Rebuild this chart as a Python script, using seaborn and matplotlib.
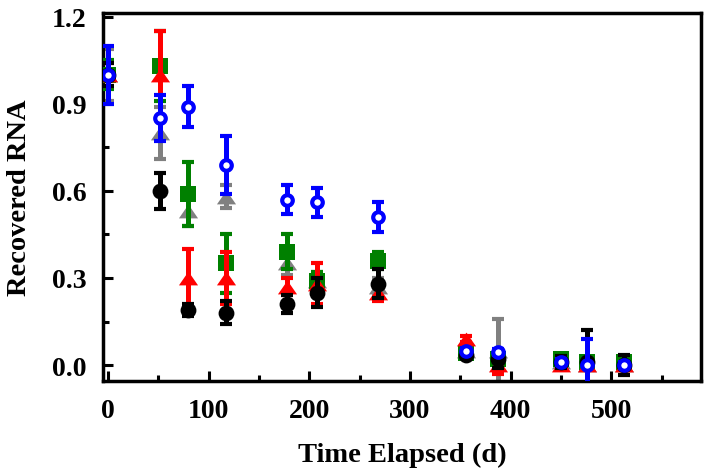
import numpy as np
import pandas as pd
import seaborn as sns
import matplotlib.pyplot as plt

# sampling times (days)
days = [0, 52, 80, 117, 178, 208, 268, 356, 388, 450, 476, 513]

gray_y = [1.00, 0.80, 0.53, 0.58, 0.35, 0.29, 0.27, 0.05, 0.05, 0.01, 0.00, 0.00]
gray_err = [0.09, 0.09, 0.05, 0.04, 0.04, 0.03, 0.03, 0.01, 0.11, 0.01, 0.01, 0.01]

green_y = [1.00, 1.03, 0.59, 0.35, 0.39, 0.29, 0.36, 0.04, 0.02, 0.02, 0.01, 0.01]
green_err = [0.05, 0.12, 0.11, 0.10, 0.06, 0.03, 0.03, 0.01, 0.02, 0.01, 0.01, 0.01]

red_y = [1.00, 1.00, 0.30, 0.30, 0.27, 0.28, 0.25, 0.09, 0.00, 0.00, 0.00, 0.00]
red_err = [0.04, 0.15, 0.10, 0.09, 0.03, 0.07, 0.03, 0.01, 0.03, 0.01, 0.01, 0.01]

black_y = [1.00, 0.60, 0.19, 0.18, 0.21, 0.25, 0.28, 0.035, 0.02, 0.01, 0.01, 0.00]
black_err = [0.04, 0.063, 0.02, 0.04, 0.03, 0.05, 0.05, 0.01, 0.03, 0.02, 0.11, 0.035]

blue_y = [1.00, 0.85, 0.89, 0.69, 0.57, 0.56, 0.51, 0.05, 0.045, 0.01, 0.00, 0.00]
blue_err = [0.10, 0.08, 0.07, 0.10, 0.05, 0.05, 0.05, 0.01, 0.01, 0.01, 0.09, 0.01]

# wide, squat triangle like the original
tri = [(-1, -0.72), (1, -0.72), (0, 0.72)]

series = [
    ("gray", gray_y, gray_err, tri, "gray", "gray", 190),
    ("green", green_y, green_err, "s", "green", "green", 130),
    ("red", red_y, red_err, tri, "red", "red", 190),
    ("black", black_y, black_err, "o", "black", "black", 130),
    ("blue", blue_y, blue_err, "o", "white", "blue", 58),
]

sns.set_theme(style="white")
plt.rcParams['font.family'] = ['Liberation Serif', 'DejaVu Serif']
plt.rcParams['font.weight'] = 'bold'
plt.rcParams['text.color'] = 'black'
plt.rcParams['axes.labelcolor'] = 'black'
plt.rcParams['xtick.color'] = 'black'
plt.rcParams['ytick.color'] = 'black'

fig = plt.figure(figsize=(7.1, 4.77), dpi=100)
ax = fig.add_axes([0.145, 0.199, 0.842, 0.772])

for i, (name, y, err, mk, face, col, sz) in enumerate(series):
    z = 2 + i * 2
    ax.errorbar(days, y, yerr=err, fmt='none', ecolor=col, elinewidth=3.6,
                capsize=4, capthick=3, zorder=z)
    df = pd.DataFrame({'t': days, 'v': y})
    sns.scatterplot(data=df, x='t', y='v', marker=mk, s=sz,
                    color=face, edgecolor=col, linewidth=3 if face == 'white' else 0,
                    ax=ax, zorder=z + 1, legend=False)

ax.set_xlim(-5, 589)
ax.set_ylim(-0.055, 1.213)
ax.set_xticks([0, 100, 200, 300, 400, 500])
ax.set_xticks(np.arange(50, 600, 100), minor=True)
ax.set_yticks([0.0, 0.3, 0.6, 0.9, 1.2])
ax.set_yticks([0.15, 0.45, 0.75, 1.05], minor=True)
ax.set_yticklabels(['0.0', '0.3', '0.6', '0.9', '1.2'])
ax.tick_params(which='major', direction='in', length=7, width=2.2, labelsize=20,
               bottom=True, left=True, top=False, right=False)
ax.tick_params(axis='x', which='major', pad=12)
ax.tick_params(axis='y', which='major', pad=12)
ax.tick_params(which='minor', direction='in', length=4, width=2.2,
               bottom=True, left=True, top=False, right=False)
for lab in ax.get_xticklabels() + ax.get_yticklabels():
    lab.set_fontweight('bold')
for sp in ax.spines.values():
    sp.set_linewidth(2.5)
    sp.set_color('black')

ax.set_xlabel('Time Elapsed (d)', fontsize=20.5, fontweight='bold', labelpad=14)
ax.set_ylabel('Recovered RNA', fontsize=20.5, fontweight='bold', labelpad=14)

fig.savefig('out.png', dpi=100)
